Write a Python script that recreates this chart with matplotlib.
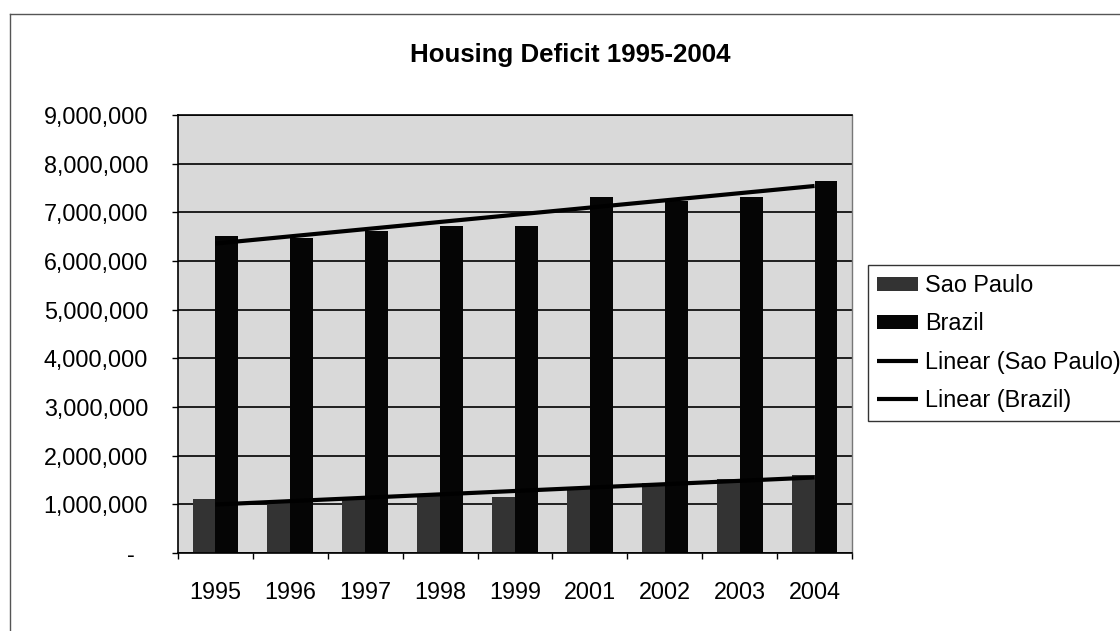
import numpy as np
import matplotlib.pyplot as plt
from matplotlib.ticker import FuncFormatter, FixedLocator

plt.rcParams['font.family'] = ['Liberation Sans', 'DejaVu Sans']

years = ['1995', '1996', '1997', '1998', '1999', '2001', '2002', '2003', '2004']
sao_paulo = [1100000, 1050000, 1120000, 1180000, 1150000, 1320000, 1430000, 1520000, 1600000]
brazil = [6510000, 6480000, 6620000, 6720000, 6710000, 7310000, 7240000, 7320000, 7640000]

W, H = 1120, 631
fig = plt.figure(figsize=(W / 100, H / 100), dpi=100)

# plot area in pixels: left 178, right 852, top 115, bottom 553
ax = fig.add_axes([178 / W, 1 - 553 / H, 674 / W, 438 / H])
ax.set_facecolor('#d9d9d9')

x = np.arange(len(years))
bw = 0.306
b1 = ax.bar(x - bw / 2, sao_paulo, bw, color='#333333', label='Sao Paulo', zorder=2)
b2 = ax.bar(x + bw / 2, brazil, bw, color='#050505', label='Brazil', zorder=2)

# linear trendlines (Excel style, fitted on category index)
lines = []
for vals, name in [(sao_paulo, 'Linear (Sao Paulo)'), (brazil, 'Linear (Brazil)')]:
    k, b = np.polyfit(x, vals, 1)
    ln, = ax.plot([x[0], x[-1]], [k * x[0] + b, k * x[-1] + b], color='black',
                  lw=3, label=name, zorder=3, solid_capstyle='butt')
    lines.append(ln)

ax.set_xlim(-0.5, len(years) - 0.5)
ax.set_ylim(0, 9000000)
ax.set_yticks(np.arange(0, 9000001, 1000000))
ax.yaxis.set_major_formatter(FuncFormatter(lambda v, p: '-  ' if v == 0 else f'{int(v):,}'))
ax.grid(axis='y', color='black', lw=1.2, zorder=1)
ax.set_axisbelow(True)

ax.xaxis.set_major_locator(FixedLocator(np.arange(-0.5, len(years), 1)))
ax.xaxis.set_minor_locator(FixedLocator(x))
ax.set_xticklabels([], minor=False)
ax.set_xticklabels(years, minor=True)
ax.tick_params(axis='x', which='major', length=4.5, width=1, color='black', direction='out')
ax.tick_params(axis='x', which='minor', length=0, pad=20, labelsize=16.8)
ax.tick_params(axis='y', length=4.5, width=1, pad=17, labelsize=16.8)

for s in ['left', 'bottom']:
    ax.spines[s].set_color('black')
    ax.spines[s].set_linewidth(1.2)
ax.spines['top'].set_color('black')
ax.spines['top'].set_linewidth(1.2)
ax.spines['right'].set_color('#777777')
ax.spines['right'].set_linewidth(1)
ax.spines['right'].set_linestyle((0, (2, 1)))

fig.text(570 / W, 1 - 55 / H, 'Housing Deficit 1995-2004', ha='center', va='center',
         fontsize=18.6, fontweight='bold')

leg = fig.legend([b1, b2] + lines,
                 ['Sao Paulo', 'Brazil', 'Linear (Sao Paulo)', 'Linear (Brazil)'],
                 loc='center left', bbox_to_anchor=(868 / W, 1 - 343 / H),
                 fontsize=16.8, frameon=True, fancybox=False, shadow=False,
                 handlelength=1.75, handleheight=0.55, handletextpad=0.3,
                 labelspacing=0.65, borderpad=0.4, borderaxespad=0)
leg.get_frame().set_edgecolor('black')
leg.get_frame().set_linewidth(1)

# outer chart border (top and left)
fig.add_artist(plt.Line2D([10 / W, 1], [1 - 14 / H, 1 - 14 / H], color='#555555', lw=1))
fig.add_artist(plt.Line2D([10 / W, 10 / W], [0, 1 - 14 / H], color='#555555', lw=1))

fig.savefig('out.png', dpi=100)
